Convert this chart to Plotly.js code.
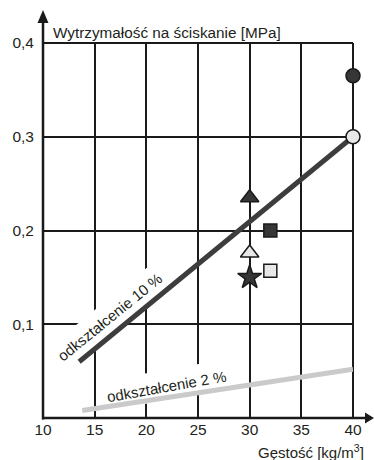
<!DOCTYPE html>
<html>
<head>
<meta charset="utf-8">
<script src="https://cdn.plot.ly/plotly-3.0.1.min.js"></script>
<style>
  html, body { margin: 0; padding: 0; background: #ffffff; }
  #chart { width: 374px; height: 460px; }
</style>
</head>
<body>
<div id="chart"></div>
<script>
// ---- data ----
const line10Density = [13.5, 40];
const line10Strength = [0.06, 0.30];
const line2Density = [13.8, 40];
const line2Strength = [0.008, 0.052];

const pointDensity = [40, 40, 30, 30, 30, 32, 32];
const pointStrength = [0.365, 0.300, 0.235, 0.176, 0.150, 0.200, 0.157];

const xTickVals = [10, 15, 20, 25, 30, 35, 40];
const xTickText = ['10', '15', '20', '25', '30', '35', '40'];
const yTickVals = [0.1, 0.2, 0.3, 0.4];
const yTickText = ['0,1', '0,2', '0,3', '0,4'];

const yTitle = 'Wytrzymałość na ściskanie [MPa]';
const xTitle = 'Gęstość [kg/m<sup>3</sup>]';
const label10 = 'odkształcenie 10 %';
const label2 = 'odkształcenie 2 %';

// ---- styles ----
const DARK = '#363636';
const LIGHT = '#e8e8e8';
const INK = '#1a1a1a';
const pointSymbols = ['circle', 'circle', 'triangle-up', 'triangle-up', 'star', 'square', 'square'];
const pointFills = [DARK, LIGHT, DARK, LIGHT, DARK, DARK, LIGHT];
const pointSizes = [14, 14, 16, 16, 18, 13, 13];

const FONT = 'Liberation Sans, Arial, Helvetica, sans-serif';
const X_RANGE = [10, 40], Y_RANGE = [0, 0.4];

// plot area in pixels
const L = 43, R = 353, T = 43, B = 418;
function px(x) { return (x - L) / (R - L); }
function py(y) { return (B - y) / (B - T); }
function dx(x) { return X_RANGE[0] + px(x) * (X_RANGE[1] - X_RANGE[0]); }
function dy(y) { return Y_RANGE[0] + py(y) * (Y_RANGE[1] - Y_RANGE[0]); }
function pathPaper(points) {
  return 'M ' + points.map(p => px(p[0]).toFixed(5) + ',' + py(p[1]).toFixed(5)).join(' L ') + ' Z';
}
function pathData(points) {
  return 'M ' + points.map(p => dx(p[0]).toFixed(5) + ',' + dy(p[1]).toFixed(6)).join(' L ') + ' Z';
}
function rotRect(cx, cy, a, b, deg) {
  const t = deg * Math.PI / 180;
  const ux = Math.cos(t), uy = -Math.sin(t);
  const vx = Math.sin(t), vy = Math.cos(t);
  return pathData([
    [cx - a * ux - b * vx, cy - a * uy - b * vy],
    [cx + a * ux - b * vx, cy + a * uy - b * vy],
    [cx + a * ux + b * vx, cy + a * uy + b * vy],
    [cx - a * ux + b * vx, cy - a * uy + b * vy]
  ]);
}

const traces = [
  {
    x: line2Density, y: line2Strength, type: 'scatter', mode: 'lines',
    line: { color: '#cacaca', width: 5 }, hoverinfo: 'skip', cliponaxis: false
  },
  {
    x: line10Density, y: line10Strength, type: 'scatter', mode: 'lines',
    line: { color: '#3d3d3d', width: 5 }, hoverinfo: 'skip', cliponaxis: false
  },
  {
    x: pointDensity, y: pointStrength, type: 'scatter', mode: 'markers',
    marker: {
      symbol: pointSymbols, color: pointFills, size: pointSizes, opacity: 1,
      line: { color: INK, width: 1.5 }
    },
    hoverinfo: 'skip', cliponaxis: false
  }
];

const shapes = [
  { type: 'path', xref: 'x', yref: 'y', layer: 'between',
    path: rotRect(109, 317, 72, 14.5, 39), fillcolor: '#ffffff', line: { width: 0 } },
  { type: 'path', xref: 'x', yref: 'y', layer: 'between',
    path: rotRect(166, 385, 66, 15, 10), fillcolor: '#ffffff', line: { width: 0 } },
  // frame top & right
  { type: 'line', xref: 'paper', yref: 'paper', layer: 'below',
    x0: 0, x1: 1, y0: 1, y1: 1, line: { color: INK, width: 2 } },
  { type: 'line', xref: 'paper', yref: 'paper', layer: 'below',
    x0: 1, x1: 1, y0: 0, y1: 1, line: { color: INK, width: 2 } },
  // axes
  { type: 'line', xref: 'paper', yref: 'paper', layer: 'above',
    x0: 0, x1: 0, y0: py(419.5), y1: py(20), line: { color: INK, width: 2.5 } },
  { type: 'line', xref: 'paper', yref: 'paper', layer: 'above',
    x0: px(42), x1: px(367), y0: 0, y1: 0, line: { color: INK, width: 2.5 } },
  { type: 'path', xref: 'paper', yref: 'paper', layer: 'above',
    path: pathPaper([[43, 10], [37.5, 23], [48.5, 23]]), fillcolor: INK, line: { width: 0 } },
  { type: 'path', xref: 'paper', yref: 'paper', layer: 'above',
    path: pathPaper([[374, 418], [365, 412.5], [365, 423.5]]), fillcolor: INK, line: { width: 0 } }
];

const annotations = [
  { text: yTitle, xref: 'paper', yref: 'paper', x: px(51), y: py(32.5),
    xanchor: 'left', yanchor: 'middle', showarrow: false, font: { size: 15.3, color: '#231f20', family: FONT } },
  { text: xTitle, xref: 'paper', yref: 'paper', x: px(366), y: py(451),
    xanchor: 'right', yanchor: 'middle', showarrow: false, font: { size: 15, color: '#231f20', family: FONT } },
  { text: label10, xref: 'paper', yref: 'paper', x: px(109), y: py(317),
    xanchor: 'center', yanchor: 'middle', textangle: -39, showarrow: false,
    font: { size: 15, color: '#231f20', family: FONT } },
  { text: label2, xref: 'paper', yref: 'paper', x: px(166), y: py(386),
    xanchor: 'center', yanchor: 'middle', textangle: -10, showarrow: false,
    font: { size: 15, color: '#231f20', family: FONT } }
];

const layout = {
  width: 374, height: 460,
  margin: { l: L, r: 374 - R, t: T, b: 460 - B, pad: 0 },
  paper_bgcolor: '#ffffff', plot_bgcolor: '#ffffff',
  showlegend: false, hovermode: false,
  font: { family: FONT, size: 15, color: '#231f20' },
  xaxis: {
    range: X_RANGE, tickvals: xTickVals, ticktext: xTickText,
    showgrid: true, gridcolor: INK, gridwidth: 2,
    zeroline: false, showline: false, ticks: '',
    tickfont: { size: 15.5, color: '#231f20', family: FONT }, fixedrange: true
  },
  yaxis: {
    range: Y_RANGE, tickvals: yTickVals, ticktext: yTickText,
    showgrid: true, gridcolor: INK, gridwidth: 2,
    zeroline: false, showline: false, ticks: '', ticklabelstandoff: 8,
    tickfont: { size: 15.5, color: '#231f20', family: FONT }, fixedrange: true
  },
  shapes: shapes,
  annotations: annotations
};

Plotly.newPlot('chart', traces, layout, { staticPlot: true, displayModeBar: false });
</script>
</body>
</html>
